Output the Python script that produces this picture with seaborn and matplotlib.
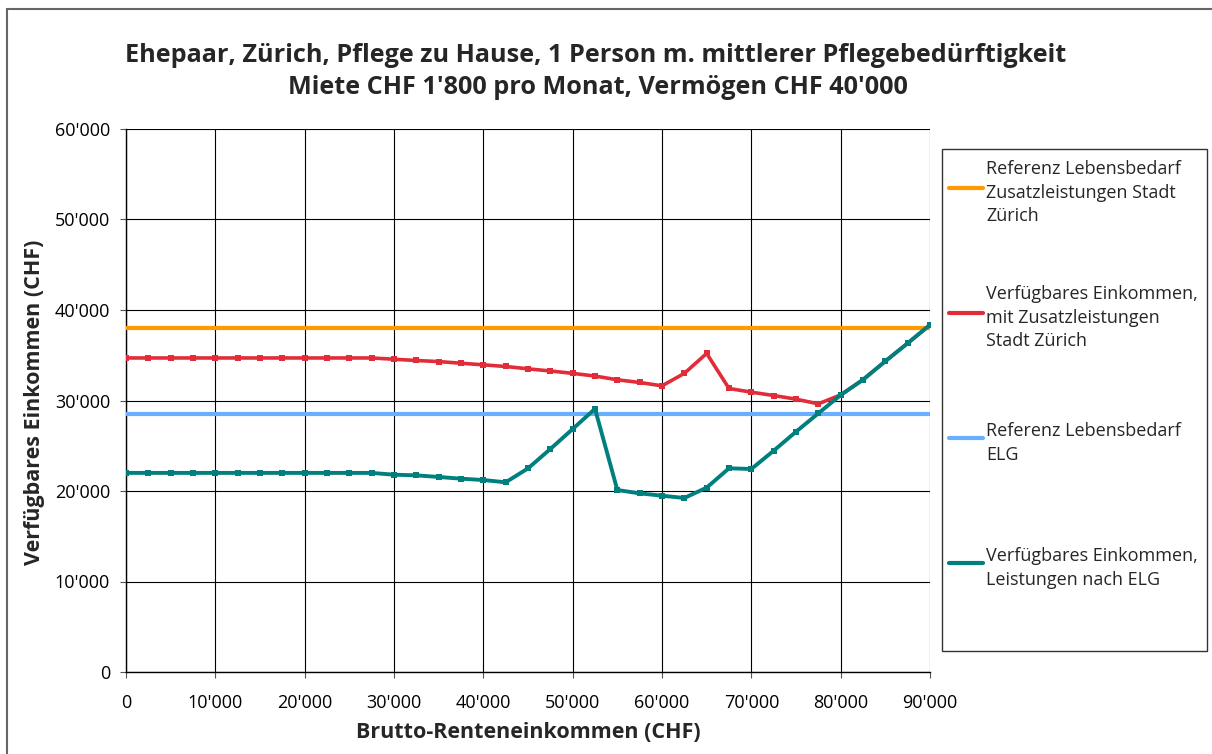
import pandas as pd
import matplotlib.pyplot as plt
import seaborn as sns
from matplotlib.lines import Line2D
from matplotlib.patches import Rectangle
from matplotlib.ticker import FuncFormatter, MultipleLocator

# Daten
einkommen = [0, 2500, 5000, 7500, 10000, 12500, 15000, 17500, 20000, 22500,
             25000, 27500, 30000, 32500, 35000, 37500, 40000, 42500, 45000,
             47500, 50000, 52500, 55000, 57500, 60000, 62500, 65000, 67500,
             70000, 72500, 75000, 77500, 80000, 82500, 85000, 87500, 90000]

verf_zl = [34700, 34700, 34700, 34700, 34700, 34700, 34700, 34700, 34700, 34700,
           34700, 34700, 34560, 34420, 34300, 34120, 33940, 33760, 33500,
           33260, 33000, 32700, 32290, 31990, 31620, 33000, 35200, 31330,
           30920, 30550, 30150, 29630, 30620, 32300, 34340, 36330, 38360]

verf_elg = [22000, 22000, 22000, 22000, 22000, 22000, 22000, 22000, 22000, 22000,
            22000, 22000, 21800, 21730, 21550, 21360, 21215, 20960, 22500,
            24640, 26850, 29080, 20110, 19740, 19480, 19230, 20370, 22510,
            22430, 24450, 26550, 28580, 30600, 32300, 34340, 36330, 38360]

ref_zl = 38000
ref_elg = 28500

labels = ['Referenz Lebensbedarf\nZusatzleistungen Stadt\nZürich',
          'Verfügbares Einkommen,\nmit Zusatzleistungen\nStadt Zürich',
          'Referenz Lebensbedarf\nELG',
          'Verfügbares Einkommen,\nLeistungen nach ELG']
farben = ['#FF9900', '#E12D39', '#6AAEFF', '#007F7F']

sns.set_style('white')
plt.rcParams['font.family'] = ['Open Sans', 'DejaVu Sans']

W, H = 1212, 754
fig = plt.figure(figsize=(W / 100, H / 100), dpi=100)
ax = fig.add_axes([126 / W, 1 - 672 / H, (930 - 126) / W, (672 - 129) / H])

df = pd.DataFrame({'x': einkommen, 'zl': verf_zl, 'elg': verf_elg})

ax.axhline(ref_zl, color=farben[0], lw=3, zorder=3)
sns.lineplot(data=df, x='x', y='zl', ax=ax, color=farben[1], lw=2.6,
             marker='s', markersize=4, markeredgewidth=0, zorder=4)
ax.axhline(ref_elg, color=farben[2], lw=3, zorder=3)
sns.lineplot(data=df, x='x', y='elg', ax=ax, color=farben[3], lw=2.8,
             marker='s', markersize=4, markeredgewidth=0, zorder=5)

ax.set_xlim(0, 90000)
ax.set_ylim(0, 60000)
ax.xaxis.set_major_locator(MultipleLocator(10000))
ax.yaxis.set_major_locator(MultipleLocator(10000))
fmt = FuncFormatter(lambda v, p: f"{int(v):,}".replace(',', "'"))
ax.xaxis.set_major_formatter(fmt)
ax.yaxis.set_major_formatter(fmt)
ax.grid(True, color='black', lw=0.8)
ax.set_axisbelow(True)
for s in ['top', 'right']:
    ax.spines[s].set_visible(False)
for s in ['left', 'bottom']:
    ax.spines[s].set_color('black')
    ax.spines[s].set_linewidth(1)
ax.tick_params(axis='both', direction='out', length=4.5, width=0.8,
               color='#555555', labelsize=13, labelcolor='black')
ax.tick_params(axis='x', bottom=True, pad=11)
ax.tick_params(axis='y', left=True, pad=7)
ax.set_xlabel('')
ax.set_ylabel('')

fig.text(596 / W, 1 - 55 / H,
         'Ehepaar, Zürich, Pflege zu Hause, 1 Person m. mittlerer Pflegebedürftigkeit',
         ha='center', va='center', fontsize=18.2, fontweight='bold')
fig.text(598 / W, 1 - 88 / H, "Miete CHF 1'800 pro Monat, Vermögen CHF 40'000",
         ha='center', va='center', fontsize=18.2, fontweight='bold')
fig.text(528 / W, 1 - 733 / H, 'Brutto-Renteneinkommen (CHF)',
         ha='center', va='center', fontsize=15.5, fontweight='bold')
fig.text(35 / W, 1 - 402 / H, 'Verfügbares Einkommen (CHF)',
         ha='center', va='center', rotation=90, fontsize=15.5, fontweight='bold')

# Legende rechts
fig.add_artist(Rectangle((942 / W, 1 - 651 / H), (1207 - 942) / W, (651 - 149) / H,
                         transform=fig.transFigure, fill=False,
                         edgecolor='#333333', lw=1))
for lab, col, yp in zip(labels, farben, [188, 313, 438, 563]):
    fig.add_artist(Line2D([949 / W, 983 / W], [1 - yp / H] * 2,
                          transform=fig.transFigure, color=col, lw=3,
                          solid_capstyle='round'))
    fig.text(986 / W, 1 - yp / H, lab, ha='left', va='center_baseline',
             fontsize=13, linespacing=1.4)

# Rahmen um die Grafik
fig.add_artist(Rectangle((6.5 / W, -0.05), 1.1, 1.05 - 9 / H,
                         transform=fig.transFigure, fill=False,
                         edgecolor='#666666', lw=1.5, clip_on=False))

fig.savefig('out.png', dpi=100)
